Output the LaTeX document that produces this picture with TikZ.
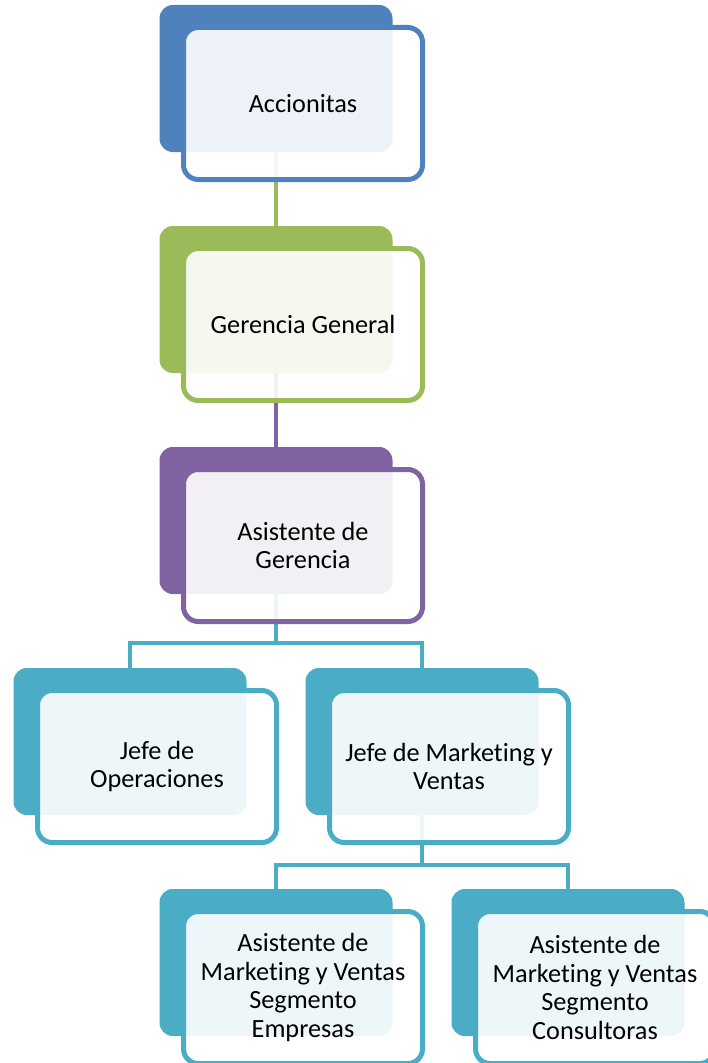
\documentclass[tikz,border=0pt]{standalone}
\usepackage{fontspec}
\setmainfont{Carlito}[Ligatures=NoCommon]
\usetikzlibrary{calc,positioning,backgrounds}
\definecolor{accblue}{HTML}{4F81BD}
\definecolor{accgreen}{HTML}{9BBB59}
\definecolor{accpurple}{HTML}{8064A2}
\definecolor{accteal}{HTML}{4BACC6}
\tikzset{>=stealth,
  backbox/.style={rectangle,rounded corners=10pt,fill=#1,inner sep=0pt,
    minimum width=174.75pt,minimum height=110.25pt},
  frontbox/.style={rectangle,rounded corners=11pt,draw=#1,line width=3.75pt,
    fill=white,fill opacity=.9,text opacity=1,inner sep=2pt,
    minimum width=179.25pt,minimum height=114pt,align=center,
    font=\fontsize{19.7pt}{21.5pt}\selectfont},
  link/.style={draw=#1,line width=3.5pt}
}
\begin{document}
\begin{tikzpicture}[x=0.75pt,y=-0.75pt]
\useasboundingbox (0,0) rectangle (707,1063);
% back boxes
\node[backbox=accblue] (acc) at (276,78.5) {};
\node[backbox=accgreen] (ger) at (276,299.5) {};
\node[backbox=accpurple] (asis) at (276,520.5) {};
\node[backbox=accteal] (jop) at (130,741.5) {};
\node[backbox=accteal] (jmv) at (422,741.5) {};
\node[backbox=accteal] (emp) at (276,962.5) {};
\node[backbox=accteal] (cons) at (568,962.5) {};
% front boxes
\node[frontbox=accblue] (acc-f) at ([shift={(27,25)}]acc.center) {Accionitas};
\node[frontbox=accgreen] (ger-f) at ([shift={(27,25)}]ger.center) {Gerencia General};
\node[frontbox=accpurple] (asis-f) at ([shift={(27,25)}]asis.center) {Asistente de\\Gerencia};
\node[frontbox=accteal] (jop-f) at ([shift={(27,25)}]jop.center) {Jefe de\\Operaciones};
\node[frontbox=accteal] (jmv-f) at ([shift={(27,25)}]jmv.center) {Jefe de Marketing y\\Ventas};
\node[frontbox=accteal] (emp-f) at ([shift={(27,25)}]emp.center) {Asistente de\\Marketing y Ventas\\Segmento\\Empresas};
\node[frontbox=accteal] (cons-f) at ([shift={(27,25)}]cons.center) {Asistente de\\Marketing y Ventas\\Segmento\\Consultoras};
% connectors
\begin{scope}[on background layer]
\coordinate (bus1) at (276,643);
\coordinate (bus2) at (422,865);
\draw[link=accgreen] (acc.south)--(ger.north);
\draw[link=accpurple] (ger.south)--(asis.north);
\draw[link=accteal] (asis.south)--(bus1)-|(jop.north);
\draw[link=accteal] (bus1)-|(jmv.north);
\draw[link=accteal] (jmv.south)--(bus2)-|(emp.north);
\draw[link=accteal] (bus2)-|(cons.north);
\end{scope}
\end{tikzpicture}
\end{document}
